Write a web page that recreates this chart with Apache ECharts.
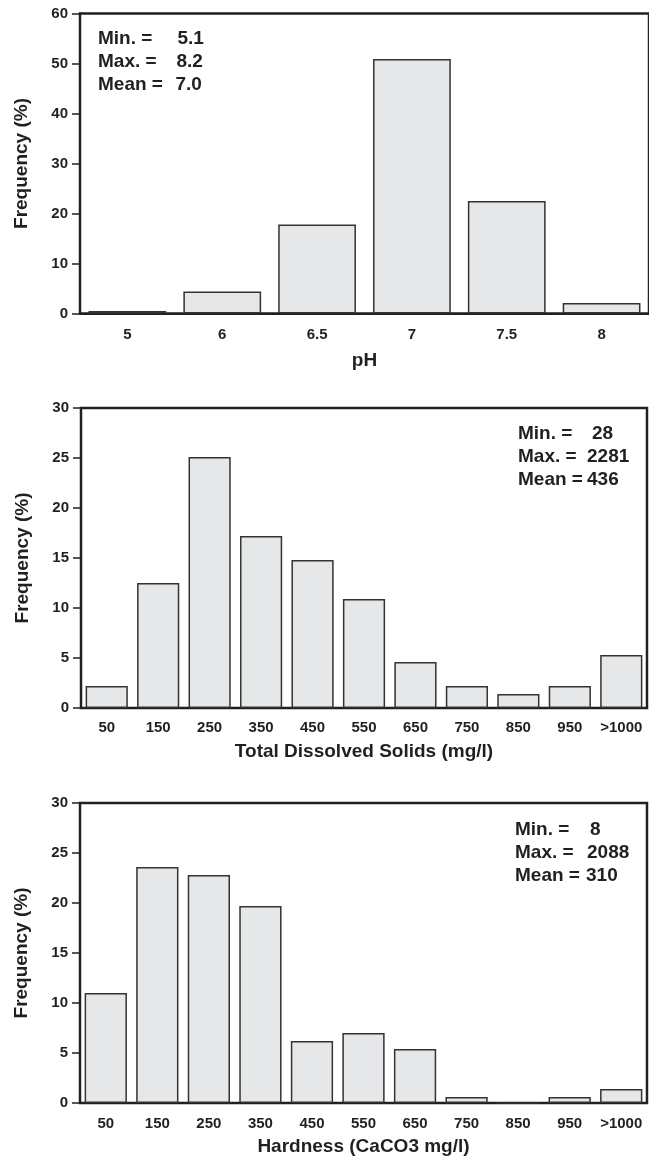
<!DOCTYPE html>
<html>
<head>
<meta charset="utf-8">
<title>Frequency distributions: pH, TDS, Hardness</title>
<script src="https://cdn.jsdelivr.net/npm/echarts@6/dist/echarts.min.js"></script>
<style>
  html, body { margin: 0; padding: 0; background: #ffffff; }
  #chart { width: 649px; height: 1158px; }
</style>
</head>
<body>
<div id="chart"></div>
<script>
// ---- data ----
const phCategories = ['5', '6', '6.5', '7', '7.5', '8'];
const phFrequency = [0.5, 4.4, 17.8, 50.9, 22.5, 2.1];

const rangeCategories = ['50', '150', '250', '350', '450', '550', '650', '750', '850', '950', '>1000'];
const tdsFrequency = [2.2, 12.5, 25.1, 17.2, 14.8, 10.9, 4.6, 2.2, 1.4, 2.2, 5.3];
const hardnessFrequency = [11.0, 23.6, 22.8, 19.7, 6.2, 7.0, 5.4, 0.6, 0, 0.6, 1.4];

const statLabels = ['Min. =', 'Max. =', 'Mean ='];
const phStats = ['5.1', '8.2', '7.0'];
const tdsStats = ['28', '2281', '436'];
const hardnessStats = ['8', '2088', '310'];

const yAxisTitle = 'Frequency (%)';
const xAxisTitles = ['pH', 'Total Dissolved Solids (mg/l)', 'Hardness (CaCO3 mg/l)'];

// ---- styling / layout ----
const INK = '#231f20';
const FONT = "'Liberation Sans', Arial, Helvetica, sans-serif";

const panels = [
  { grid: { left: 80, top: 13.5, width: 571, height: 300 }, cats: phCategories, values: phFrequency,
    yMax: 60, yStep: 10, stats: phStats, statX: 98, valX: [177.5, 176.5, 175.5], statY: [38.5, 61.5, 84.5],
    labelMargin: 14, nameGap: 38 },
  { grid: { left: 81, top: 408, width: 566, height: 300 }, cats: rangeCategories, values: tdsFrequency,
    yMax: 30, yStep: 5, stats: tdsStats, statX: 518, valX: [592, 587, 587], statY: [433.3, 456.7, 480],
    labelMargin: 12, nameGap: 34 },
  { grid: { left: 80, top: 803, width: 567, height: 300 }, cats: rangeCategories, values: hardnessFrequency,
    yMax: 30, yStep: 5, stats: hardnessStats, statX: 515, valX: [590, 587, 586], statY: [829.3, 852.7, 876],
    labelMargin: 13, nameGap: 34 }
];

const grids = [], xAxes = [], yAxes = [], series = [], graphics = [];

panels.forEach((p, i) => {
  // plot frame (top and right edges come from the grid border)
  grids.push(Object.assign({
    show: true, borderColor: INK, borderWidth: 2.5, backgroundColor: 'transparent', containLabel: false
  }, p.grid));

  xAxes.push({
    type: 'category', gridIndex: i, data: p.cats,
    name: xAxisTitles[i], nameLocation: 'middle', nameGap: p.nameGap,
    nameTextStyle: { fontFamily: FONT, fontWeight: 'bold', fontSize: 19, color: INK },
    axisLine: { lineStyle: { color: INK, width: 2 } },
    axisTick: { alignWithLabel: true, length: 5, lineStyle: { color: INK, width: 1.5 } },
    axisLabel: { fontFamily: FONT, fontWeight: 'bold', fontSize: 15, color: INK, margin: p.labelMargin, interval: 0 },
    splitLine: { show: false }
  });

  yAxes.push({
    type: 'value', gridIndex: i, min: 0, max: p.yMax, interval: p.yStep,
    name: yAxisTitle, nameLocation: 'middle', nameRotate: 90, nameGap: 49,
    nameTextStyle: { fontFamily: FONT, fontWeight: 'bold', fontSize: 19, color: INK },
    axisLine: { show: true, lineStyle: { color: INK, width: 2 } },
    axisTick: { show: true, length: 8, lineStyle: { color: INK, width: 1.5 } },
    axisLabel: { fontFamily: FONT, fontWeight: 'bold', fontSize: 15, color: INK, margin: 12 },
    splitLine: { show: false }
  });

  series.push({
    type: 'bar', xAxisIndex: i, yAxisIndex: i, data: p.values,
    barCategoryGap: '18%',
    itemStyle: { color: '#e6e7e8', borderColor: '#333333', borderWidth: 1.5 },
    emphasis: { disabled: true },
    silent: true
  });

  // summary statistics: labels in one column, values in another
  statLabels.forEach((lab, r) => {
    const common = { fontFamily: FONT, fontWeight: 'bold', fontSize: 19, fill: INK, verticalAlign: 'middle', align: 'left' };
    graphics.push({ type: 'text', x: p.statX, y: p.statY[r], silent: true,
      style: Object.assign({ text: lab }, common) });
    graphics.push({ type: 'text', x: p.valX[r], y: p.statY[r], silent: true,
      style: Object.assign({ text: p.stats[r] }, common) });
  });
});

const chart = echarts.init(document.getElementById('chart'), null, { renderer: 'canvas' });
chart.setOption({
  animation: false,
  backgroundColor: '#ffffff',
  grid: grids,
  xAxis: xAxes,
  yAxis: yAxes,
  series: series,
  graphic: graphics
});
</script>
</body>
</html>
